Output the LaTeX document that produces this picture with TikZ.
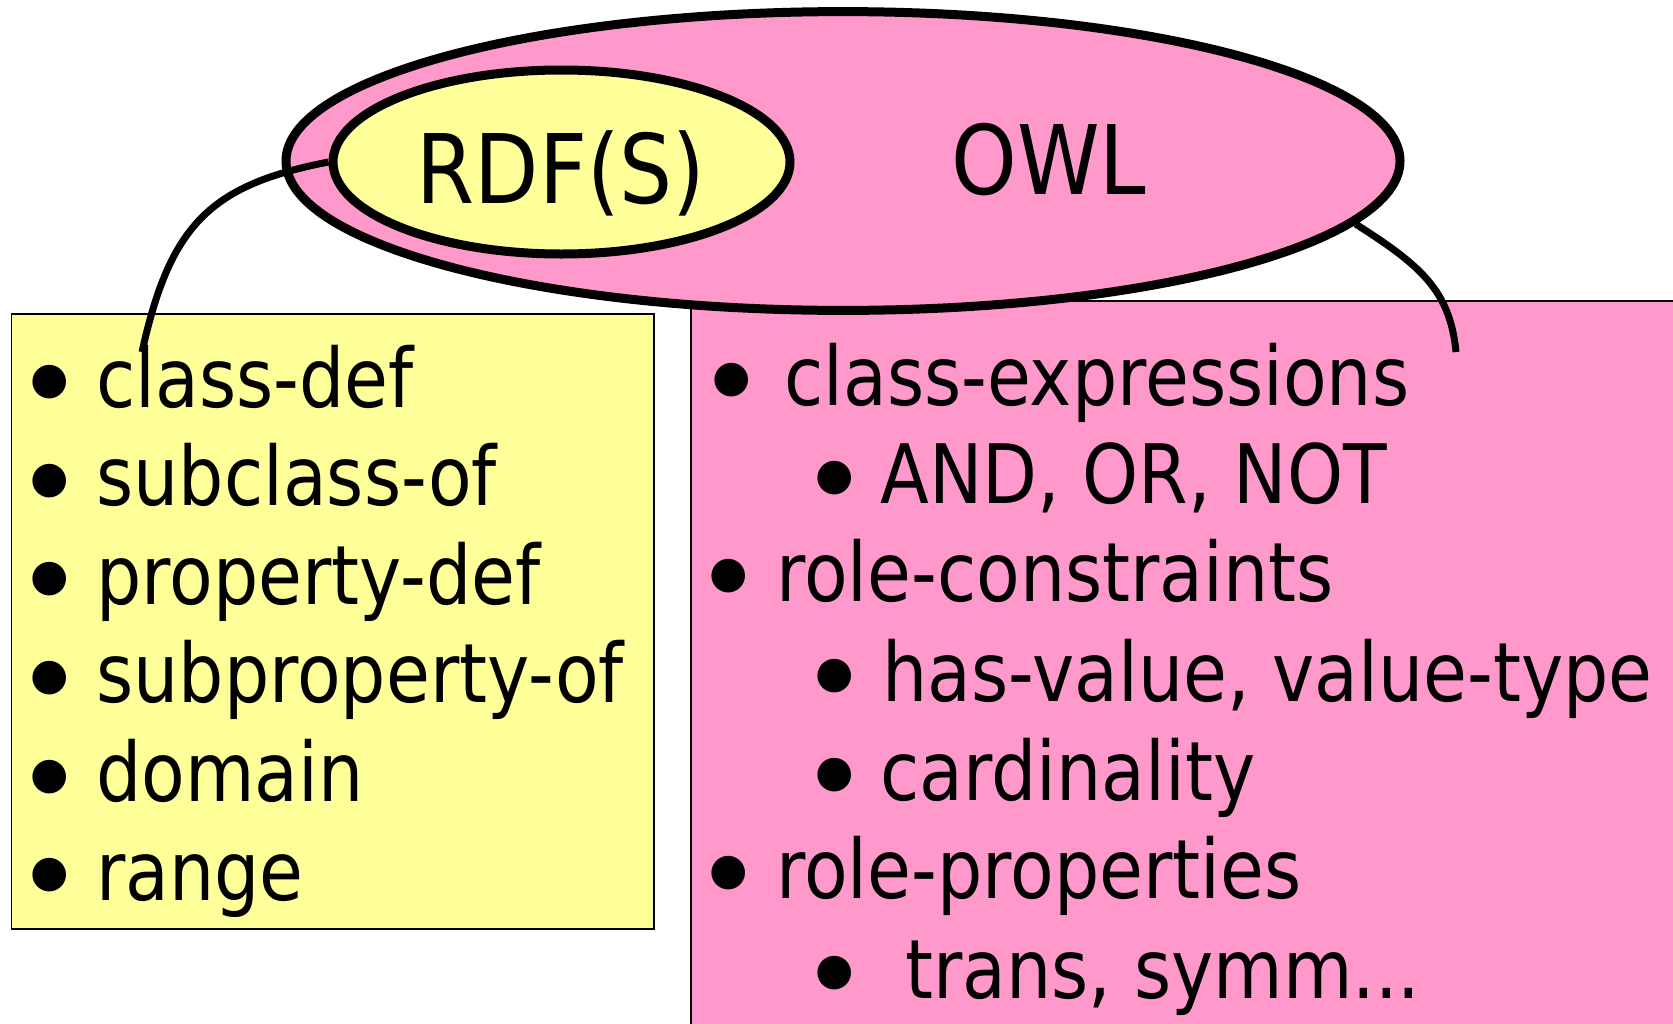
\documentclass[tikz,border=0pt]{standalone}
\usepackage{fontspec}
\setmainfont{DejaVu Sans}[FakeStretch=0.87]
\newfontfamily\bulfont{DejaVu Sans}
\usetikzlibrary{shapes.geometric}
\definecolor{owlpink}{HTML}{FF99CC}
\definecolor{rdfyellow}{HTML}{FFFF99}
\begin{document}
\begin{tikzpicture}[x=0.5pt,y=-0.5pt,
  item/.style={anchor=base west,inner sep=0pt,font=\fontsize{41}{41}\selectfont},
  bul/.style={anchor=base,inner sep=0pt,yshift=6.7pt,font=\bulfont\fontsize{22}{22}\selectfont},
  title/.style={anchor=base,inner sep=0pt,font=\fontsize{48}{48}\selectfont},
  conn/.style={line width=3.5pt},
  oval/.style={ellipse,draw,line width=4.5pt,inner sep=0pt},
  box/.style={rectangle,draw,line width=0.75pt,inner sep=0pt,anchor=north west}]
\useasboundingbox (0,0) rectangle (1673,1023);
\fill[white] (0,0) rectangle (1673,1023);
% boxes
\node[box,fill=rdfyellow,minimum width=321.2pt,minimum height=307.5pt] (rdfbox) at (10.7,313) {};
\node[box,fill=owlpink,minimum width=500pt,minimum height=370pt] (owlbox) at (690,300) {};
% ellipses
\node[oval,fill=owlpink,minimum width=557pt,minimum height=149.4pt] (owl) at (843,161) {};
\node[oval,fill=rdfyellow,minimum width=228.5pt,minimum height=92pt] (rdf) at (561.5,162) {};
\node[title] (rdft) at (561,203) {RDF(S)};
\node[title] (owlt) at (1049,194) {OWL};
% connectors
\coordinate (c1) at (142,352);
\coordinate (c2) at (1456,352);
\draw[conn] (rdf.west) .. controls (210,185) and (170,225) .. (c1);
\draw[conn] (owl.-7.6) .. controls (1420,265) and (1450,290) .. (c2);
% left list
\foreach \t [count=\i] in {class-def,subclass-of,property-def,subproperty-of,domain,range}{
  \pgfmathsetmacro{\yy}{407+98.6*(\i-1)}
  \node[bul] (lb\i) at (50,\yy) {●};
  \node[item] (lt\i) at (96,\yy) {\t};
}
% right list
\node[bul] (rb1) at (732,405) {●};
\node[item] (rt1) at (784,405) {class-expressions};
\node[bul] (rb2) at (835,503) {●};
\node[item] (rt2) at (880,503) {AND, OR, NOT};
\node[bul] (rb3) at (729,601) {●};
\node[item] (rt3) at (776,601) {role-constraints};
\node[bul] (rb4) at (835,701) {●};
\node[item] (rt4) at (882,701) {has-value, value-type};
\node[bul] (rb5) at (835,800) {●};
\node[item] (rt5) at (880,800) {cardinality};
\node[bul] (rb6) at (729,898) {●};
\node[item] (rt6) at (776,898) {role-properties};
\node[bul] (rb7) at (835,998) {●};
\node[item] (rt7) at (905,998) {trans, symm...};
\end{tikzpicture}
\end{document}
